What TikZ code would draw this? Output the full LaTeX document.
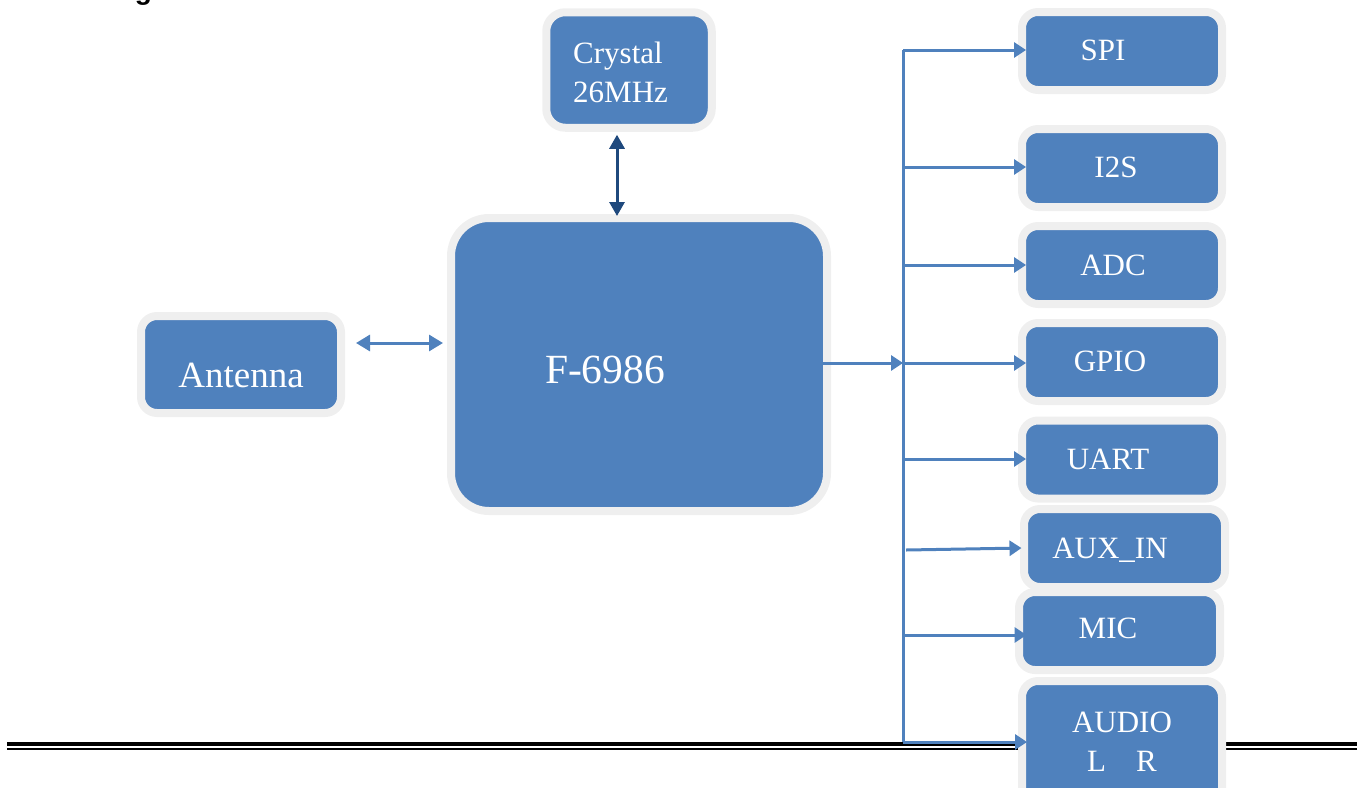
\documentclass[tikz,border=0pt]{standalone}
\usepackage{fontspec}
\setmainfont{Liberation Serif}
\newfontfamily\headfont{Liberation Sans}
\usetikzlibrary{arrows.meta}
\definecolor{boxblue}{HTML}{4F81BD}
\definecolor{rim}{HTML}{EFEFEF}
\definecolor{darkarrow}{HTML}{1F497D}
\begin{document}
\begin{tikzpicture}[x=1pt,y=-1pt,
  blk/.style={draw=rim, line width=8pt, fill=boxblue, rounded corners=#1, inner sep=0pt, outer sep=0pt},
  blk/.default=16pt,
  rbox/.style={blk, minimum width=200pt, minimum height=78pt},
  txt/.style={text=white, inner sep=0pt, anchor=base, font=\fontsize{31}{39}\selectfont},
  arr/.style={boxblue, line width=3pt, -{Triangle[length=12pt,width=15pt]}},
  bus/.style={boxblue, line width=3pt},
  darr/.style={darkarrow, line width=3pt, {Triangle[length=14pt,width=15pt]}-{Triangle[length=14pt,width=15pt]}},
  barr/.style={boxblue, line width=3pt, {Triangle[length=14pt,width=16pt]}-{Triangle[length=14pt,width=16pt]}},
  rule/.style={black}
]
\clip (0,0) rectangle (1364,787);

% heading fragment
\node[inner sep=0pt, anchor=base, font=\headfont\bfseries\fontsize{28}{30}\selectfont] (head) at (143.5,-1) {g};

% bottom double rule
\draw[rule, line width=4pt] (7,744) -- (1357,744);
\draw[rule, line width=2pt] (7,749) -- (1357,749);

% boxes
\node[blk=19pt, minimum width=165.5pt, minimum height=115.5pt] (crystal) at (629,70) {};
\node[txt, anchor=base west, align=left] (crystalt) at (573,102) {Crystal\\26MHz};

\node[blk=38pt, minimum width=376pt, minimum height=293pt] (chip) at (639,364.5) {};
\node[txt, font=\fontsize{41.5}{48}\selectfont] (chipt) at (605,383) {F-6986};

\node[blk=16pt, minimum width=200pt, minimum height=97pt] (ant) at (241,364.5) {};
\node[txt, font=\fontsize{37}{44}\selectfont] (antt) at (241,387) {Antenna};

\node[rbox] (spi) at (1122,51) {};
\node[txt] (spit) at (1103,60) {SPI};
\node[rbox] (i2s) at (1122,168) {};
\node[txt] (i2st) at (1116,177) {I2S};
\node[rbox] (adc) at (1122,265) {};
\node[txt] (adct) at (1113,275.5) {ADC};
\node[rbox] (gpio) at (1122,362) {};
\node[txt] (gpiot) at (1110,371.5) {GPIO};
\node[rbox] (uart) at (1122,459.5) {};
\node[txt] (uartt) at (1108,469.5) {UART};
\node[rbox, minimum width=201pt] (aux) at (1124.5,548) {};
\node[txt] (auxt) at (1110,558) {AUX\_IN};
\node[rbox, minimum width=201pt] (mic) at (1119.5,631) {};
\node[txt] (mict) at (1108,638) {MIC};
\node[rbox, minimum height=124pt] (audio) at (1122,743) {};
\node[txt, align=center] (audiot) at (1122,771) {AUDIO\\L\hspace{30pt}R};

% coordinates
\coordinate (xa) at (617,0);
\coordinate (ya) at (0,343);
\coordinate (b1) at (903,50);
\coordinate (b2) at (903,167);
\coordinate (b3) at (903,265);
\coordinate (b4) at (903,363);
\coordinate (b5) at (903,459);
\coordinate (auxs) at (906,550);
\coordinate (b7) at (903,635);
\coordinate (b8) at (903,742);

% connectors
\draw[darr, shorten <=7pt, shorten >=2pt] (crystal.south -| xa) -- (chip.north -| xa);
\draw[barr, shorten <=15pt, shorten >=8pt] (ant.east |- ya) -- (chip.west |- ya);

\draw[bus] (b1) -- (b8);
\draw[arr, shorten <=-4pt] (chip.east |- b4) -- (b4);
\draw[arr, shorten >=-4pt] (b1) -- (spi.west |- b1);
\draw[arr, shorten >=-4pt] (b2) -- (i2s.west |- b2);
\draw[arr, shorten >=-4pt] (b3) -- (adc.west |- b3);
\draw[arr, shorten >=-4pt] (b4) -- (gpio.west |- b4);
\draw[arr, shorten >=-4pt] (b5) -- (uart.west |- b5);
\draw[arr, shorten >=2.5pt] (auxs) -- (aux.west);
\draw[arr, shorten >=-7.5pt] (b7) -- (mic.west |- b7);
\draw[arr, shorten >=-5pt] (b8) -- (audio.west |- b8);
\end{tikzpicture}
\end{document}
